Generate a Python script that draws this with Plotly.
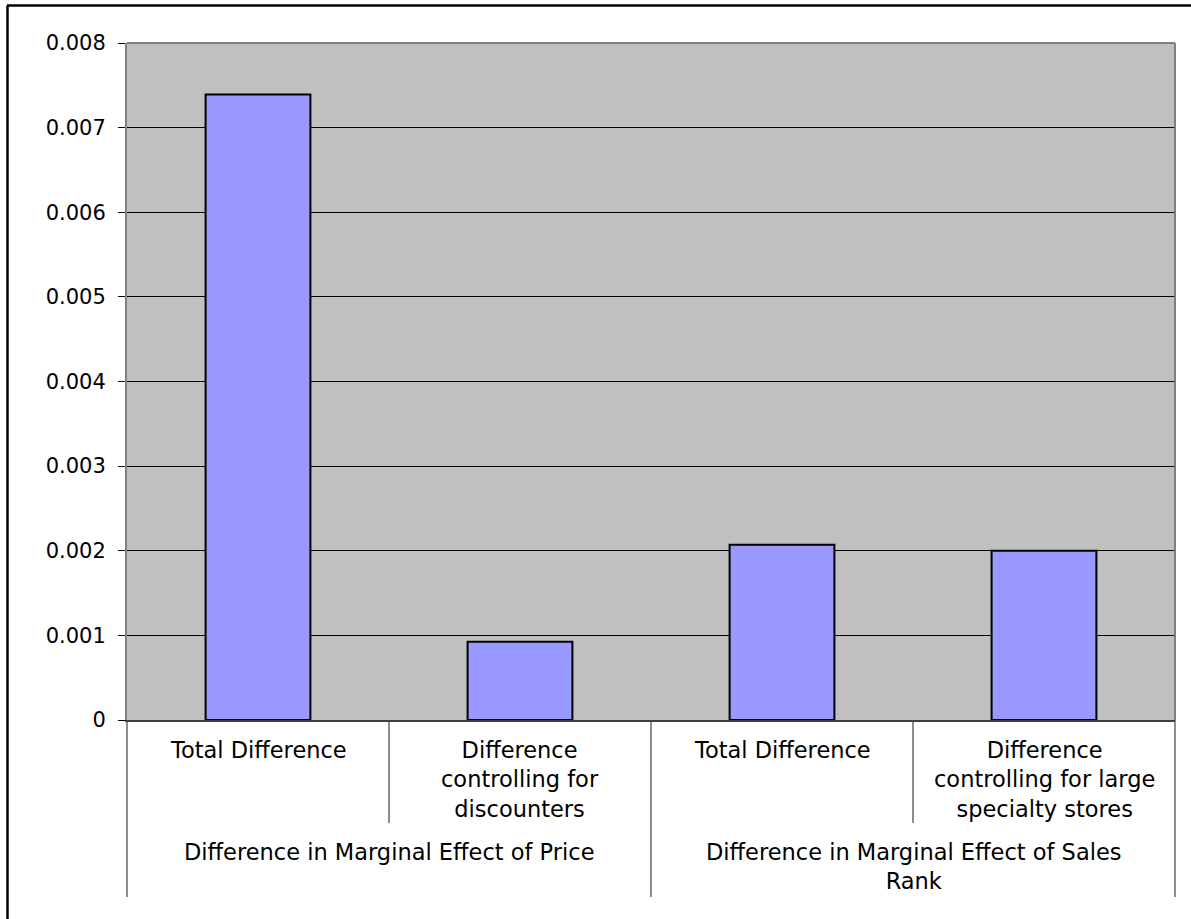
import plotly.graph_objects as go

# ---- data ----
inner_labels = [
    "Total Difference",
    "Difference<br>controlling for<br>discounters",
    "Total Difference",
    "Difference<br>controlling for large<br>specialty stores",
]
group_labels = [
    "Difference in Marginal Effect of Price",
    "Difference in Marginal Effect of Sales<br>Rank",
]
group_sizes = [2, 2]
values = [0.00739, 0.000925, 0.00207, 0.0020]

y_ticks = [0, 0.001, 0.002, 0.003, 0.004, 0.005, 0.006, 0.007, 0.008]

# ---- geometry (pixels) ----
W, H = 1191, 919
L, R, T, B = 127, 16, 43, 199
plot_w = W - L - R
plot_h = H - T - B
FONT = "DejaVu Sans"
XFS = 22.5


def py(px):
    """pixel y -> paper y"""
    return (H - B - px) / plot_h


def px_x(px):
    return (px - L) / plot_w


n = len(inner_labels)
xpos = list(range(n))

fig = go.Figure()
fig.add_trace(go.Bar(
    x=xpos, y=values, width=0.4,
    marker=dict(color="#9999FF", line=dict(color="black", width=2)),
    hoverinfo="y",
))

shapes = []
annotations = []

# plot-area border (top/right grey)
shapes.append(dict(type="line", xref="paper", yref="paper", x0=0, x1=1, y0=1, y1=1,
                   line=dict(color="#808080", width=2)))
shapes.append(dict(type="line", xref="paper", yref="paper", x0=1, x1=1, y0=0, y1=1,
                   line=dict(color="#808080", width=2)))

# inner dividers (short) and group dividers (long)
bounds = [0]
for s in group_sizes:
    bounds.append(bounds[-1] + s)
group_bounds = set(bounds)
for k in range(n + 1):
    xp = k / n
    y1 = py(897) if k in group_bounds else py(823)
    shapes.append(dict(type="line", xref="paper", yref="paper", x0=xp, x1=xp,
                       y0=0, y1=y1, line=dict(color="#404040", width=1.2)))

# inner category labels
for i, lab in enumerate(inner_labels):
    annotations.append(dict(x=i, xref="x", y=py(735), yref="paper", yanchor="top",
                            text=lab, showarrow=False,
                            font=dict(family=FONT, size=XFS, color="black")))

# group labels
for g, lab in enumerate(group_labels):
    centre = (bounds[g] + bounds[g + 1] - 1) / 2
    annotations.append(dict(x=centre, xref="x", y=py(837), yref="paper", yanchor="top",
                            text=lab, showarrow=False,
                            font=dict(family=FONT, size=XFS, color="black")))

# outer chart border (top and left visible)
shapes.append(dict(type="line", xref="paper", yref="paper",
                   x0=px_x(7), x1=px_x(1200), y0=py(5.5), y1=py(5.5),
                   line=dict(color="black", width=2.5)))
shapes.append(dict(type="line", xref="paper", yref="paper",
                   x0=px_x(7.5), x1=px_x(7.5), y0=py(5.5), y1=py(930),
                   line=dict(color="black", width=2.5)))

fig.update_layout(
    width=W, height=H,
    margin=dict(l=L, r=R, t=T, b=B, pad=0),
    paper_bgcolor="white",
    plot_bgcolor="#C0C0C0",
    showlegend=False,
    bargap=0.6,
    shapes=shapes,
    annotations=annotations,
    xaxis=dict(range=[-0.5, n - 0.5], showticklabels=False, showgrid=False,
               zeroline=False, showline=True, linecolor="#404040", linewidth=2,
               ticks="", fixedrange=True),
    yaxis=dict(range=[0, 0.008], tickvals=y_ticks,
               ticktext=[("0" if v == 0 else f"{v:.3f}") for v in y_ticks],
               showgrid=True, gridcolor="black", gridwidth=1,
               zeroline=False, showline=True, linecolor="#808080", linewidth=2,
               ticks="outside", ticklen=7, tickcolor="black", tickwidth=1,
               ticklabelstandoff=8,
               tickfont=dict(family=FONT, size=21, color="black"), fixedrange=True),
)

fig.write_html("out.html")
